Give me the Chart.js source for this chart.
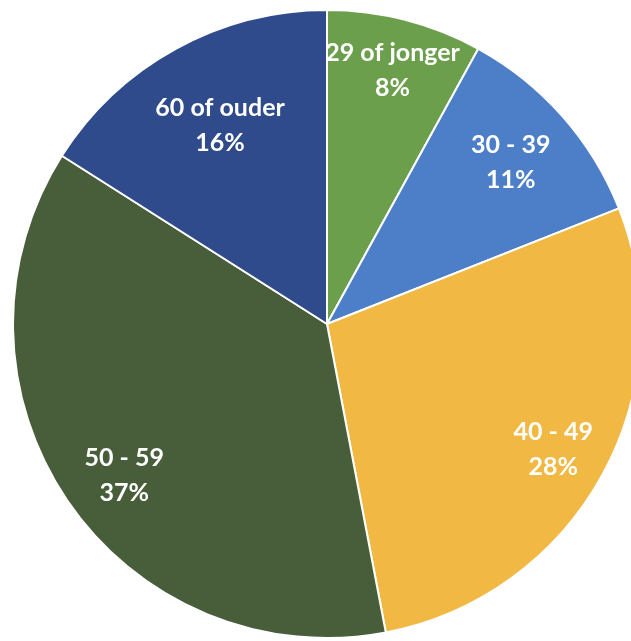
<!DOCTYPE html>
<html>
<head>
<meta charset="utf-8">
<script src="https://cdn.jsdelivr.net/npm/chart.js@4/dist/chart.umd.min.js"></script>
<style>
  html, body { margin: 0; padding: 0; background: #fff; overflow: hidden; }
  #wrap { position: absolute; left: 12px; top: 9px; width: 630px; height: 630px; }
</style>
</head>
<body>
<div id="wrap"><canvas id="taart"></canvas></div>
<script>
const leeftijden = ["29 of jonger", "30 - 39", "40 - 49", "50 - 59", "60 of ouder"];
const aandelen = [8, 11, 28, 37, 16];
const kleuren = ["#6c9f4c", "#4d7ec8", "#f1b944", "#485e3b", "#2f4b8b"];

// where each label sits: fraction of the radius, plus a small nudge in px
const labelAfstand = [0.84, 0.78, 0.815, 0.80, 0.72];
const labelDuw = [[0, 1], [0, 0], [2, 2], [5, 10], [2, -1]];

const labelsPlugin = {
    id: "taartLabels",
    afterDatasetsDraw(chart) {
        const ctx = chart.ctx;
        const meta = chart.getDatasetMeta(0);
        const totaal = aandelen.reduce((a, b) => a + b, 0);
        ctx.save();
        ctx.fillStyle = "#ffffff";
        ctx.font = "bold 25px Lato, 'Open Sans', sans-serif";
        ctx.textAlign = "center";
        ctx.textBaseline = "middle";
        meta.data.forEach((arc, i) => {
            const p = arc.getProps(["x", "y", "startAngle", "endAngle", "outerRadius"], true);
            const hoek = (p.startAngle + p.endAngle) / 2;
            const r = p.outerRadius * labelAfstand[i];
            const x = p.x + Math.cos(hoek) * r + labelDuw[i][0];
            const y = p.y + Math.sin(hoek) * r + labelDuw[i][1];
            ctx.fillText(leeftijden[i], x, y - 17);
            ctx.fillText(Math.round(aandelen[i] / totaal * 100) + "%", x, y + 18);
        });
        ctx.restore();
    }
};

new Chart("taart", {
    type: "pie",
    data: {
        labels: leeftijden,
        datasets: [{
            data: aandelen,
            backgroundColor: kleuren,
            borderColor: "#ffffff",
            borderWidth: 2
        }]
    },
    options: {
        responsive: true,
        maintainAspectRatio: false,
        animation: false,
        plugins: {
            legend: { display: false },
            tooltip: { enabled: false }
        }
    },
    plugins: [labelsPlugin]
});
</script>
</body>
</html>
